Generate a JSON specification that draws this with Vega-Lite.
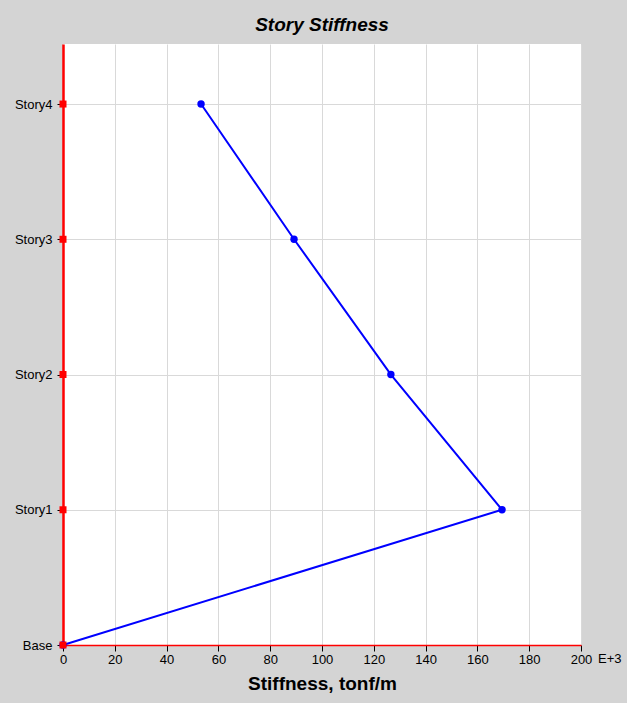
{
  "$schema": "https://vega.github.io/schema/vega-lite/v6.json",
  "width": 518,
  "height": 601,
  "autosize": {"type": "none"},
  "padding": {"left": 63, "top": 44, "right": 46, "bottom": 58},
  "background": "#d4d4d4",
  "config": {
    "view": {"fill": "white", "stroke": null},
    "font": "Liberation Sans"
  },
  "title": {
    "text": "Story Stiffness",
    "font": "Liberation Sans",
    "fontSize": 19,
    "fontWeight": "bold",
    "fontStyle": "italic",
    "color": "#000000",
    "anchor": "middle",
    "offset": 9
  },
  "datasets": {
    "stories": [
      {"story": "Base", "level": 0, "stiffness": 0},
      {"story": "Story1", "level": 1, "stiffness": 169.5},
      {"story": "Story2", "level": 2, "stiffness": 126.6},
      {"story": "Story3", "level": 3, "stiffness": 89.2},
      {"story": "Story4", "level": 4, "stiffness": 53.3}
    ]
  },
  "layer": [
    {
      "data": {"name": "stories"},
      "mark": {"type": "line", "color": "#0000ff", "strokeWidth": 2, "point": {"filled": true, "color": "#0000ff", "size": 55, "opacity": 1}},
      "encoding": {
        "x": {
          "field": "stiffness",
          "type": "quantitative",
          "scale": {"domain": [0, 200], "nice": false, "zero": true},
          "axis": {
            "values": [0, 20, 40, 60, 80, 100, 120, 140, 160, 180, 200],
            "title": "Stiffness, tonf/m",
            "titleFont": "Liberation Sans",
            "titleFontSize": 19,
            "titleFontWeight": "bold",
            "titleColor": "#000000",
            "titlePadding": 8,
            "labelFont": "Liberation Sans",
            "labelFontSize": 13,
            "labelColor": "#000000",
            "labelPadding": 2,
            "labelFlush": false,
            "tickColor": "#000000",
            "tickSize": 6,
            "domainColor": "#ff0000",
            "domainWidth": 1.5,
            "gridColor": "#d9d9d9",
            "gridWidth": 1
          }
        },
        "y": {
          "field": "level",
          "type": "quantitative",
          "scale": {"domain": [0, 4.444], "nice": false, "zero": true},
          "axis": {
            "values": [0, 1, 2, 3, 4],
            "labelExpr": "datum.value == 0 ? 'Base' : 'Story' + datum.value",
            "title": null,
            "labelFont": "Liberation Sans",
            "labelFontSize": 13,
            "labelColor": "#000000",
            "labelPadding": 5,
            "labelFlush": false,
            "tickColor": "#000000",
            "tickSize": 6,
            "domainColor": "#ff0000",
            "domainWidth": 2.5,
            "gridColor": "#d9d9d9",
            "gridWidth": 1
          }
        },
        "order": {"field": "level", "type": "quantitative"}
      }
    },
    {
      "data": {"name": "stories"},
      "mark": {"type": "point", "shape": "square", "filled": true, "color": "#ff0000", "size": 49, "opacity": 1},
      "encoding": {
        "x": {"datum": 0, "type": "quantitative"},
        "y": {"field": "level", "type": "quantitative"}
      }
    },
    {
      "data": {"values": [{"note": "E+3"}]},
      "mark": {"type": "text", "align": "left", "baseline": "top", "dx": 17, "dy": 8, "fontSize": 13, "font": "Liberation Sans", "color": "#000000"},
      "encoding": {
        "x": {"datum": 200, "type": "quantitative"},
        "y": {"datum": 0, "type": "quantitative"},
        "text": {"field": "note"}
      }
    }
  ]
}
